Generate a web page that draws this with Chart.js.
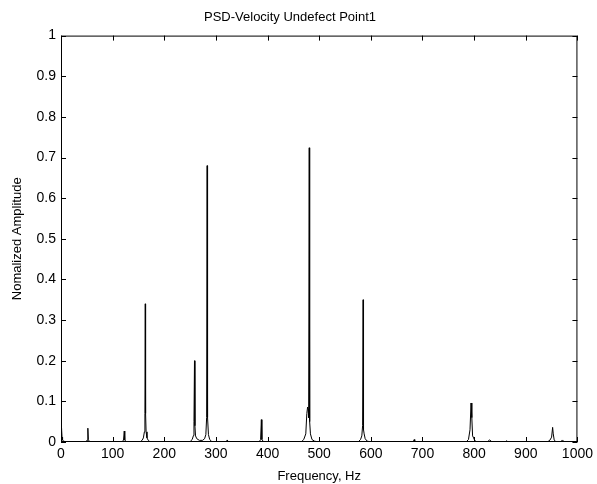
<!DOCTYPE html>
<html>
<head>
<meta charset="utf-8">
<script src="https://cdn.jsdelivr.net/npm/chart.js@4.4.1/dist/chart.umd.min.js"></script>
<style>
  html, body { margin: 0; padding: 0; background: #fff; }
  #wrap { width: 597px; height: 484px; }
</style>
</head>
<body>
<div id="wrap"><canvas id="psd"></canvas></div>
<script>
// PSD trace (Hz / normalized amplitude)
const freqHz = [
  0, 1, 2, 3, 5, 8,
  48, 50.5, 52, 53, 55,
  118, 121, 122.5, 123.5, 126,
  154, 157, 159.5, 161.5, 162.5, 163.2, 163.8, 164.8, 166.5, 169, 172,
  250, 254, 256.5, 257.5, 258.5, 259.3, 260.5, 263, 268, 274, 278, 280.5, 282, 283, 283.8, 285.5, 288, 292,
  320, 322, 323.5,
  384, 386.5, 388, 389, 392,
  466, 470, 474, 476, 477.5, 478.5, 479.5, 480.7, 481.5, 483, 486, 491, 495,
  576, 580, 582.5, 584, 585, 585.8, 587, 589, 593, 597,
  682, 684, 685,
  785, 789, 792, 794, 795.5, 797, 799, 801, 804,
  826, 830, 834,
  861, 863, 865,
  943, 947, 950, 952, 953.2, 955, 958,
  968, 971, 974,
  1000
];
const amplitude = [
  0.03, 0.035, 0.012, 0.005, 0.002, 0.001,
  0.001, 0.004, 0.034, 0.006, 0.001,
  0.001, 0.004, 0.027, 0.005, 0.001,
  0.001, 0.004, 0.01, 0.025, 0.07, 0.34, 0.07, 0.025, 0.01, 0.004, 0.001,
  0.001, 0.006, 0.016, 0.05, 0.2, 0.04, 0.015, 0.008, 0.004, 0.004, 0.008, 0.018, 0.06, 0.68, 0.06, 0.018, 0.006, 0.001,
  0.001, 0.005, 0.001,
  0.001, 0.006, 0.055, 0.006, 0.001,
  0.001, 0.006, 0.02, 0.07, 0.086, 0.08, 0.06, 0.724, 0.05, 0.02, 0.006, 0.002, 0.001,
  0.001, 0.006, 0.015, 0.04, 0.35, 0.03, 0.02, 0.008, 0.002, 0.001,
  0.001, 0.006, 0.001,
  0.001, 0.006, 0.03, 0.096, 0.06, 0.015, 0.01, 0.004, 0.001,
  0.001, 0.005, 0.001,
  0.001, 0.003, 0.001,
  0.001, 0.005, 0.012, 0.036, 0.02, 0.005, 0.001,
  0.001, 0.005, 0.001,
  0.001
];

const xTicks = [0, 100, 200, 300, 400, 500, 600, 700, 800, 900, 1000];
const yTicks = [0, 0.1, 0.2, 0.3, 0.4, 0.5, 0.6, 0.7, 0.8, 0.9, 1];

const font = { family: '"Liberation Sans", Arial, sans-serif', size: 13 };
const tickFont = { family: '"Liberation Sans", Arial, sans-serif', size: 14 };

// matlab-style box with inward ticks on all four sides
const boxPlugin = {
  id: 'matlabBox',
  afterDatasetsDraw(chart) {
    const { ctx, chartArea: a, scales: { x, y } } = chart;
    const len = 5;
    ctx.save();
    ctx.strokeStyle = '#000';
    ctx.lineWidth = 1;
    ctx.strokeRect(a.left + 0.5, a.top + 0.5, a.right - a.left - 1, a.bottom - a.top - 1);
    ctx.beginPath();
    xTicks.forEach(v => {
      const px = Math.round(x.getPixelForValue(v)) + 0.5;
      ctx.moveTo(px, a.bottom);
      ctx.lineTo(px, a.bottom - len);
      ctx.moveTo(px, a.top);
      ctx.lineTo(px, a.top + len);
    });
    yTicks.forEach(v => {
      const py = Math.round(y.getPixelForValue(v)) + 0.5;
      ctx.moveTo(a.left, py);
      ctx.lineTo(a.left + len, py);
      ctx.moveTo(a.right, py);
      ctx.lineTo(a.right - len, py);
    });
    ctx.stroke();
    ctx.restore();
  }
};

new Chart(document.getElementById('psd'), {
  type: 'line',
  data: {
    datasets: [
      {
        data: freqHz.map((f, i) => ({ x: f, y: amplitude[i] })),
        borderColor: '#000',
        borderWidth: 1,
        pointRadius: 0,
        tension: 0,
        fill: false,
      },
    ],
  },
  plugins: [boxPlugin],
  options: {
    responsive: true,
    maintainAspectRatio: false,
    animation: false,
    layout: { padding: { top: 0, right: 17, bottom: 0, left: 0 } },
    plugins: {
      legend: { display: false },
      tooltip: { enabled: false },
      title: {
        display: true,
        text: 'PSD-Velocity Undefect Point1',
        color: '#000',
        font: { ...font, weight: 'normal' },
        padding: { top: 10, bottom: 10 },
      },
    },
    scales: {
      x: {
        type: 'linear',
        min: 0,
        max: 1000,
        afterBuildTicks: s => { s.ticks = xTicks.map(v => ({ value: v })); },
        afterFit: s => { s.height = 42; },
        grid: { display: false, drawTicks: false },
        border: { display: false },
        ticks: { color: '#000', font: tickFont, padding: 4, maxRotation: 0, autoSkip: false, callback: v => String(v) },
        title: { display: true, text: 'Frequency, Hz', color: '#000', font, padding: { top: 0, bottom: 0 } },
      },
      y: {
        min: 0,
        max: 1,
        afterBuildTicks: s => { s.ticks = yTicks.map(v => ({ value: v })); },
        afterFit: s => { s.width = 61; },
        grid: { display: false, drawTicks: false },
        border: { display: false },
        ticks: { color: '#000', font: tickFont, padding: 5, autoSkip: false, callback: v => String(v) },
        title: { display: true, text: 'Nomalized Amplitude', color: '#000', font, padding: { top: 10, bottom: 0 } },
      },
    },
  },
});
</script>
</body>
</html>
